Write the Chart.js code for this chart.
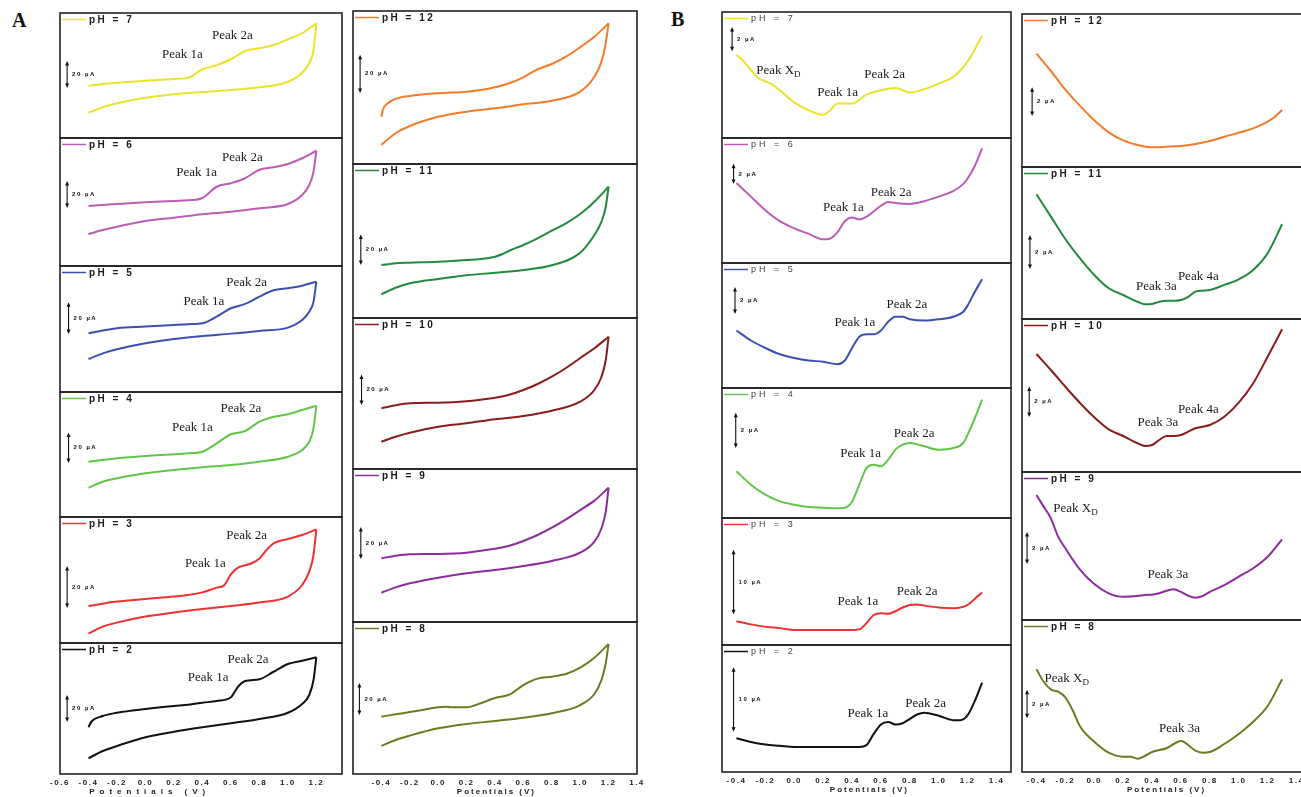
<!DOCTYPE html>
<html>
<head>
<meta charset="utf-8">
<script src="https://cdn.jsdelivr.net/npm/chart.js@4.4.1/dist/chart.umd.min.js"></script>
<style>
html,body{margin:0;padding:0;background:#fff;overflow:hidden;width:1301px;height:797px}
.tag{position:absolute;font:bold 20px "Liberation Serif",serif;color:#111}
</style>
</head>
<body>
<div class="tag" style="left:12px;top:9px">A</div>
<div class="tag" style="left:671px;top:8px">B</div>
<script>
/* ===== 數據（電流 µA，電位 V） ===== */
// A：循環伏安，正掃 / 反掃
const A_FWD_V = [-0.4,-0.2,0,0.2,0.3,0.4,0.5,0.6,0.7,0.8,0.9,1.0,1.1,1.2];
const A_REV_V = [-0.4,-0.3,-0.2,0,0.2,0.4,0.6,0.8,1.0,1.1,1.15,1.18,1.2];
const A3_FWD_V = [-0.4,-0.2,0,0.2,0.3,0.4,0.5,0.55,0.6,0.65,0.7,0.75,0.8,0.85,0.9,1.0,1.1,1.2];
const A2_FWD_V = [-0.4,-0.38,-0.3,-0.2,0,0.2,0.3,0.4,0.5,0.6,0.65,0.7,0.8,0.9,1.0,1.1,1.2];
const A12_FWD_V = [-0.4,-0.39,-0.35,-0.3,-0.2,0,0.2,0.3,0.4,0.5,0.6,0.7,0.8,0.9,1.0,1.1,1.2];
const A11_FWD_V = [-0.4,-0.3,-0.2,0,0.2,0.3,0.4,0.45,0.5,0.6,0.7,0.8,0.9,1.0,1.1,1.2];
const A10_FWD_V = [-0.4,-0.3,-0.2,0,0.2,0.3,0.4,0.5,0.6,0.7,0.8,0.9,1.0,1.1,1.2];
const A8_FWD_V = [-0.4,-0.3,-0.2,-0.1,0,0.05,0.1,0.2,0.3,0.4,0.5,0.6,0.7,0.8,0.9,1.0,1.1,1.2];

const A7_FWD = [41.8,44.2,45.8,47.2,48.2,55.0,58.2,63.0,69.6,71.8,74.4,79.0,83.8,91.8];
const A7_REV = [20.2,24.6,27.8,32.2,35.0,36.8,38.4,40.6,45.0,52.2,59.8,70.4,91.8];
const A6_FWD = [48,49.6,51,52,52.6,54.4,63.4,66.2,70.2,77,79,81.6,86.2,92.2];
const A6_REV = [25.4,28.8,31.4,36,38.6,41.4,43.4,46.2,49.6,56.8,64.8,75.4,92.2];
const A5_FWD = [39.3,42.7,43.8,44.9,45.4,46,50.5,56.1,59,63.9,68.1,69.5,71.2,73.9];
const A5_REV = [22.1,25.9,28.6,32.6,35.5,37.5,39.1,40.9,43.1,48.2,53.8,60.5,73.9];
const A4_FWD = [38.7,41.1,42.7,43.9,44.6,45.7,51.6,57.9,60.2,66.7,70.2,71.9,74.9,77.9];
const A4_REV = [20.5,24.7,27.1,30.6,32.9,34.8,36.4,38.7,42.2,46.9,52.7,62.1,77.9];
const A3_FWD = [18.5,20.7,22,23.2,24,25.3,27.7,28.7,34.3,37.7,38.8,40,42.3,46.5,49.8,52,54,56.8];
const A3_REV = [4.8,8.2,10.2,13.2,15.3,17,18.5,20.2,23.2,29,35.7,44,56.8];
const A2_FWD = [37.4,41.8,46.4,49,52,54.4,55.4,57,58.4,61.4,69.8,74.4,75.8,81.8,88,90.6,93.4];
const A2_REV = [12.6,18.4,22.4,29.4,33.8,37.4,40.6,44,49,56,63.2,75.2,93.4];
const A12_FWD = [26,29.7,33.7,35.8,37.4,38.9,39.8,40.7,42.2,44.4,47.7,52.1,55,59,64.2,70,77.4];
const A12_REV = [10.5,16.9,20.9,26,28.8,30.6,32.8,34.8,39.8,48,56.3,66.4,77.4];
const A11_FWD = [37.1,38.3,38.7,39.4,40.6,41.3,42.9,44.6,47.1,51.1,55.8,61.1,66.3,72.8,81.4,91.9];
const A11_REV = [16.6,21.2,24.3,27.3,29.9,31.7,33.6,36.9,45.7,58.1,67.4,77.9,91.9];
const A10_FWD = [42.5,44.6,46,46.4,47.4,48.5,49.9,52,55.3,59.5,64.6,70.7,77.7,84.5,92.6];
const A10_REV = [19.1,22.6,25.4,29.6,32,34.8,37.1,40.8,47.1,55.3,64.6,76.3,92.6];
const A9_FWD = [42.7,44.4,45.4,45.6,46.4,47.8,49.1,51.1,54.3,58.3,63.2,68.8,75,81.3,90];
const A9_REV = [19.6,23.2,25.9,29.7,32.6,34.8,37.5,40.9,46.4,53.8,62.8,73.9,90];
const A8_FWD = [38.4,40,41.5,43.1,44.7,45.1,44.7,44.7,47.4,50.9,53.1,59.6,63.9,65.2,67,71.2,77.9,87.1];
const A8_REV = [18.8,22.8,25.7,30.6,33.5,35.5,37.7,40.7,46.2,53.6,63,74.2,87.1];

// B：差分脈衝，單掃
const B7_V = [-0.4,-0.35,-0.3,-0.25,-0.2,-0.15,-0.1,0,0.1,0.2,0.25,0.3,0.35,0.4,0.5,0.6,0.7,0.8,0.9,1.0,1.1,1.2,1.3];
const B7_I = [7.5,6.9,6.1,5.4,5.1,4.8,4.3,3.2,2.5,2.1,2.5,3.1,3.1,3.1,3.9,4.3,4.5,4.1,4.4,4.9,5.5,6.9,9.2];
const B6_V = [-0.4,-0.3,-0.2,-0.1,0,0.1,0.2,0.25,0.3,0.35,0.4,0.45,0.5,0.6,0.65,0.7,0.8,0.9,1.0,1.1,1.17,1.2,1.25,1.3];
const B6_I = [8.8,7.3,5.8,4.6,3.8,3.2,2.6,2.7,3.4,4.6,5.0,4.8,5.1,6.3,6.7,6.6,6.5,6.8,7.3,7.9,8.7,9.3,10.7,12.6];
const B54_V = [-0.4,-0.3,-0.2,-0.1,0,0.1,0.2,0.3,0.35,0.4,0.45,0.5,0.55,0.6,0.65,0.7,0.75,0.8,0.9,1.0,1.1,1.17,1.2,1.25,1.3];
const B5_I = [4.6,3.8,3.2,2.7,2.4,2.2,2.1,1.9,2.2,3.2,4.1,4.3,4.3,4.6,5.3,5.7,5.7,5.5,5.4,5.5,5.7,6.1,6.6,7.7,8.7];
const B4_I = [2.8,2.0,1.4,1.0,0.8,0.66,0.62,0.58,0.62,0.98,2.0,3.0,3.2,3.1,3.5,4.1,4.4,4.5,4.3,4.1,4.2,4.5,5.0,6.0,7.1];
const B32_V = [-0.4,-0.3,-0.2,-0.1,0,0.1,0.2,0.3,0.4,0.45,0.5,0.55,0.6,0.65,0.7,0.75,0.8,0.85,0.9,1.0,1.1,1.15,1.2,1.25,1.3];
const B3_I = [3.8,3.3,2.9,2.7,2.4,2.4,2.4,2.4,2.4,2.5,3.5,4.8,5.1,5.0,5.4,6.0,6.4,6.5,6.3,6.0,5.9,6.0,6.4,7.4,8.4];
const B2_I = [5.4,4.8,4.4,4.2,4.0,4.0,4.0,4.0,4.0,4.0,4.3,6.1,7.6,8.0,7.6,7.8,8.5,9.2,9.5,9.0,8.3,8.3,9.1,11.4,14.3];
const B12_V = [-0.4,-0.3,-0.2,-0.1,0,0.1,0.2,0.3,0.4,0.5,0.6,0.7,0.8,0.9,1.0,1.1,1.2,1.25,1.3];
const B12_I = [8.5,7.2,5.8,4.6,3.5,2.6,2.0,1.65,1.48,1.52,1.58,1.73,1.95,2.27,2.57,2.9,3.4,3.77,4.28];
const B1110_V = [-0.4,-0.3,-0.2,-0.1,0,0.1,0.2,0.3,0.35,0.4,0.45,0.5,0.55,0.6,0.65,0.7,0.75,0.8,0.9,1.0,1.1,1.2,1.3];
const B11_I = [7.8,6.4,5.0,3.8,2.75,1.92,1.5,1.08,0.92,0.94,1.08,1.14,1.14,1.19,1.39,1.71,1.77,1.81,2.13,2.48,3.06,4.11,5.92];
const B10_I = [8.26,7.14,5.97,4.85,3.83,2.99,2.52,2.01,1.82,1.89,2.24,2.52,2.52,2.59,2.82,3.06,3.17,3.29,3.87,4.85,6.21,8.07,9.99];
const B9_V = [-0.4,-0.35,-0.3,-0.25,-0.2,-0.1,0,0.1,0.2,0.3,0.35,0.4,0.45,0.5,0.55,0.6,0.65,0.7,0.75,0.8,0.9,1.0,1.1,1.2,1.3];
const B9_I = [8.34,7.56,6.78,5.56,4.78,3.38,2.4,1.78,1.55,1.6,1.67,1.69,1.78,1.95,2.05,1.87,1.62,1.49,1.6,1.87,2.33,2.89,3.45,4.22,5.38];
const B8_V = [-0.4,-0.35,-0.3,-0.25,-0.2,-0.15,-0.1,0,0.1,0.2,0.25,0.3,0.35,0.4,0.5,0.6,0.7,0.75,0.8,0.9,1.0,1.1,1.2,1.3];
const B8_I = [7.7,6.77,6.2,6.02,5.6,4.65,3.45,2.27,1.45,1.15,1.15,1.0,1.2,1.5,1.78,2.33,1.6,1.45,1.5,2.1,2.85,3.77,4.95,6.95];

// 峰標示 [文字, V, µA]（_ 後為下標）
const A7_PEAKS = [['Peak 1a',0.26,66.4],['Peak 2a',0.61,81.6]];
const A6_PEAKS = [['Peak 1a',0.36,74.4],['Peak 2a',0.68,86.4]];
const A5_PEAKS = [['Peak 1a',0.41,60.3],['Peak 2a',0.71,73]];
const A4_PEAKS = [['Peak 1a',0.33,62.3],['Peak 2a',0.67,75.6]];
const A3_PEAKS = [['Peak 1a',0.42,39.5],['Peak 2a',0.71,53.5]];
const A2_PEAKS = [['Peak 1a',0.44,76.8],['Peak 2a',0.72,91.2]];
const B7_PEAKS = [['Peak X_D',-0.11,6.03],['Peak 1a',0.30,4.1],['Peak 2a',0.625,5.7]];
const B6_PEAKS = [['Peak 1a',0.34,6.05],['Peak 2a',0.67,7.8]];
const B5_PEAKS = [['Peak 1a',0.42,5.2],['Peak 2a',0.78,6.64]];
const B4_PEAKS = [['Peak 1a',0.46,3.84],['Peak 2a',0.83,5.04]];
const B3_PEAKS = [['Peak 1a',0.44,7.0],['Peak 2a',0.85,8.6]];
const B2_PEAKS = [['Peak 1a',0.51,9.3],['Peak 2a',0.91,11.0]];
const B11_PEAKS = [['Peak 3a',0.43,2.0],['Peak 4a',0.72,2.63]];
const B10_PEAKS = [['Peak 3a',0.44,3.43],['Peak 4a',0.72,4.34]];
const B9_PEAKS = [['Peak X_D',-0.13,7.4],['Peak 3a',0.51,3.0]];
const B8_PEAKS = [['Peak X_D',-0.19,6.98],['Peak 3a',0.59,3.23]];

// 刻度
const TICKS_AL = [-0.6,-0.4,-0.2,0,0.2,0.4,0.6,0.8,1.0,1.2];
const TICKS_R  = [-0.4,-0.2,0,0.2,0.4,0.6,0.8,1.0,1.2,1.4];

/* ===== 版面 ===== */
const AXIS_H = 24, PADX = 20, PADT = 2;
const COLUMNS = {
  AL:{left:60,  width:282, min:-0.6, max:1.38, ticks:TICKS_AL, lgFont:'bold 10px "Liberation Sans"', lgGap:'2.5px', lgInk:'#1a1a1a', titleV:0.03, titleGap:'5px'},
  AR:{left:353, width:284, min:-0.6, max:1.4,  ticks:TICKS_R,  lgFont:'bold 10px "Liberation Sans"', lgGap:'2.5px', lgInk:'#1a1a1a', titleV:0.41, titleGap:'2px'},
  BL:{left:722, width:289, min:-0.5, max:1.5,  ticks:TICKS_R,  lgFont:'9px "Liberation Sans"', lgGap:'3px', lgInk:'#444', titleV:0.52, titleGap:'2px'},
  BR:{left:1022,width:289, min:-0.5, max:1.5,  ticks:TICKS_R,  lgFont:'bold 10px "Liberation Sans"', lgGap:'2.5px', lgInk:'#1a1a1a', titleV:0.5, titleGap:'2px'}
};
const C = {p7:'#ebe22a', p6:'#bb5cb5', p5:'#3b50b0', p4:'#60c54a', p3:'#ef3131', p2:'#111111',
           p12:'#f47b2a', p11:'#218a3c', p10:'#8a1c1c', p9:'#8c2c9c', p8:'#6e7a22'};

// bar: [V, 底端 µA, 長度 µA]
const PANELS = [
  {col:'AL', top:13,  bottom:138, ph:'7', color:C.p7, yMax:100,  series:[[A_FWD_V,A7_FWD],[A_REV_V,A7_REV]], bar:[-0.55,40.8,20], peaks:A7_PEAKS},
  {col:'AL', top:138, bottom:266, ph:'6', color:C.p6, yMax:102.4,series:[[A_FWD_V,A6_FWD],[A_REV_V,A6_REV]], bar:[-0.55,47.2,20], peaks:A6_PEAKS},
  {col:'AL', top:266, bottom:392, ph:'5', color:C.p5, yMax:84.4, series:[[A_FWD_V,A5_FWD],[A_REV_V,A5_REV]], bar:[-0.54,39.5,20], peaks:A5_PEAKS},
  {col:'AL', top:392, bottom:517, ph:'4', color:C.p4, yMax:87.5, series:[[A_FWD_V,A4_FWD],[A_REV_V,A4_REV]], bar:[-0.54,38.5,20], peaks:A4_PEAKS},
  {col:'AL', top:517, bottom:643, ph:'3', color:C.p3, yMax:63,   series:[[A3_FWD_V,A3_FWD],[A_REV_V,A3_REV]], bar:[-0.55,18,20], peaks:A3_PEAKS},
  {col:'AL', top:643, bottom:774, ph:'2', color:C.p2, yMax:104.8,series:[[A2_FWD_V,A2_FWD],[A_REV_V,A2_REV]], bar:[-0.55,42.4,20], peaks:A2_PEAKS, axis:true},

  {col:'AR', top:11,  bottom:164, ph:'12', color:C.p12, yMax:84.15, series:[[A12_FWD_V,A12_FWD],[A_REV_V,A12_REV]], bar:[-0.55,39.6,20], peaks:[]},
  {col:'AR', top:164, bottom:318, ph:'11', color:C.p11, yMax:107.8, series:[[A11_FWD_V,A11_FWD],[A_REV_V,A11_REV]], bar:[-0.545,37.8,20], peaks:[]},
  {col:'AR', top:318, bottom:469, ph:'10', color:C.p10, yMax:105.7, series:[[A10_FWD_V,A10_FWD],[A_REV_V,A10_REV]], bar:[-0.54,45.5,20], peaks:[]},
  {col:'AR', top:469, bottom:622, ph:'9',  color:C.p9,  yMax:102.5, series:[[A10_FWD_V,A9_FWD],[A_REV_V,A9_REV]], bar:[-0.545,42.9,20], peaks:[]},
  {col:'AR', top:622, bottom:774, ph:'8',  color:C.p8,  yMax:101.8, series:[[A8_FWD_V,A8_FWD],[A_REV_V,A8_REV]], bar:[-0.555,40.2,20], peaks:[], axis:true},

  {col:'BL', top:12,  bottom:138, ph:'7', color:C.p7, yMax:11.34, series:[[B7_V,B7_I]],  bar:[-0.43,7.9,2],  peaks:B7_PEAKS},
  {col:'BL', top:138, bottom:263, ph:'6', color:C.p6, yMax:13.75, series:[[B6_V,B6_I]],  bar:[-0.42,8.8,2],  peaks:B6_PEAKS},
  {col:'BL', top:263, bottom:388, ph:'5', color:C.p5, yMax:10.0,  series:[[B54_V,B5_I]], bar:[-0.41,6.0,2],  peaks:B5_PEAKS},
  {col:'BL', top:388, bottom:518, ph:'4', color:C.p4, yMax:7.8,   series:[[B54_V,B4_I]], bar:[-0.405,4.26,2],peaks:B4_PEAKS},
  {col:'BL', top:518, bottom:645, ph:'3', color:C.p3, yMax:20.32, series:[[B32_V,B3_I]], bar:[-0.42,5.1,10], peaks:B3_PEAKS},
  {col:'BL', top:645, bottom:772, ph:'2', color:C.p2, yMax:20.32, series:[[B32_V,B2_I]], bar:[-0.42,6.6,10], peaks:B2_PEAKS, axis:true},

  {col:'BR', top:14,  bottom:167, ph:'12', color:C.p12, yMax:11.475, series:[[B12_V,B12_I]],   bar:[-0.43,3.9,2],   peaks:[]},
  {col:'BR', top:167, bottom:319, ph:'11', color:C.p11, yMax:9.5,    series:[[B1110_V,B11_I]], bar:[-0.445,3.19,2], peaks:B11_PEAKS},
  {col:'BR', top:319, bottom:472, ph:'10', color:C.p10, yMax:10.71,  series:[[B1110_V,B10_I]], bar:[-0.45,3.92,2],  peaks:B10_PEAKS},
  {col:'BR', top:472, bottom:620, ph:'9',  color:C.p9,  yMax:9.87,   series:[[B9_V,B9_I]],     bar:[-0.465,3.8,2],  peaks:B9_PEAKS},
  {col:'BR', top:620, bottom:772, ph:'8',  color:C.p8,  yMax:11.4,   series:[[B8_V,B8_I]],     bar:[-0.465,4.1,2],  peaks:B8_PEAKS, axis:true}
];

/* ===== 繪圖 ===== */
const pts = (V,I) => V.map((v,j)=>({x:v, y:I[j]}));

function arrowBar(ctx, x, yLo, yHi){
  ctx.beginPath(); ctx.moveTo(x,yLo-2); ctx.lineTo(x,yHi+2); ctx.stroke();
  ctx.beginPath(); ctx.moveTo(x,yHi-1); ctx.lineTo(x-2,yHi+3.5); ctx.lineTo(x+2,yHi+3.5); ctx.closePath(); ctx.fill();
  ctx.beginPath(); ctx.moveTo(x,yLo+1); ctx.lineTo(x-2,yLo-3.5); ctx.lineTo(x+2,yLo-3.5); ctx.closePath(); ctx.fill();
}

function deco(p, c){
  return {
    id:'deco',
    beforeDraw(chart){ chart.ctx.letterSpacing = '1.5px'; },
    afterDraw(chart){
      const {ctx, chartArea:a, scales:{x,y}} = chart;
      ctx.save();
      // 外框
      ctx.strokeStyle='#222'; ctx.lineWidth=1.6;
      ctx.strokeRect(a.left, a.top, a.right-a.left, a.bottom-a.top);
      // 圖例
      ctx.strokeStyle=p.color; ctx.lineWidth=1.5;
      ctx.beginPath(); ctx.moveTo(a.left+2, a.top+6.5); ctx.lineTo(a.left+26, a.top+6.5); ctx.stroke();
      ctx.fillStyle=c.lgInk; ctx.font=c.lgFont; ctx.letterSpacing=c.lgGap;
      ctx.textAlign='left'; ctx.textBaseline='middle';
      ctx.fillText('pH = '+p.ph, a.left+29, a.top+7);
      // 比例尺
      const [bv,b0,bl] = p.bar;
      const bx = x.getPixelForValue(bv), yLo = y.getPixelForValue(b0), yHi = y.getPixelForValue(b0+bl);
      ctx.strokeStyle='#111'; ctx.fillStyle='#111'; ctx.lineWidth=1.1;
      arrowBar(ctx, bx, yLo, yHi);
      ctx.font='bold 6px "Liberation Sans"'; ctx.letterSpacing='1.5px';
      ctx.fillText(bl+' µA', bx+5, (yLo+yHi)/2);
      // 峰標示
      ctx.letterSpacing='0px'; ctx.fillStyle='#1a1a1a';
      p.peaks.forEach(([t,v,i])=>{
        const [main, sub] = t.split('_');
        const px = x.getPixelForValue(v), py = y.getPixelForValue(i);
        ctx.font='13px "Liberation Serif"';
        const w1 = ctx.measureText(main).width;
        let w2 = 0;
        if(sub){ ctx.font='9px "Liberation Serif"'; w2 = ctx.measureText(sub).width; }
        const x0 = px-(w1+w2)/2;
        ctx.font='13px "Liberation Serif"'; ctx.fillText(main, x0, py);
        if(sub){ ctx.font='9px "Liberation Serif"'; ctx.fillText(sub, x0+w1, py+3.5); }
      });
      // 軸標題
      if(p.axis){
        ctx.font='bold 8px "Liberation Sans"'; ctx.letterSpacing=c.titleGap; ctx.fillStyle='#222';
        ctx.textAlign='center';
        ctx.fillText('Potentials (V)', x.getPixelForValue(c.titleV), a.bottom+18);
      }
      ctx.restore();
    }
  };
}

PANELS.forEach(p=>{
  const c = COLUMNS[p.col];
  const h = p.bottom-p.top+PADT+(p.axis?AXIS_H:2);
  const box = document.createElement('div');
  Object.assign(box.style,{position:'absolute', left:(c.left-PADX)+'px', top:(p.top-PADT)+'px',
    width:(c.width+2*PADX)+'px', height:h+'px'});
  const cv = document.createElement('canvas');
  box.appendChild(cv); document.body.appendChild(box);
  new Chart(cv,{
    type:'line',
    data:{datasets:p.series.map(([V,I])=>({data:pts(V,I), borderColor:p.color, borderWidth:2,
      pointRadius:0, cubicInterpolationMode:'monotone', fill:false}))},
    options:{
      responsive:true, maintainAspectRatio:false, animation:false,
      layout:{padding:{left:PADX, right:PADX, top:PADT, bottom:p.axis?0:2}},
      plugins:{legend:{display:false}, tooltip:{enabled:false}},
      scales:{
        x:{type:'linear', min:c.min, max:c.max, display:!!p.axis,
           grid:{display:false, drawTicks:false}, border:{display:false},
           afterBuildTicks:s=>{ s.ticks = c.ticks.map(v=>({value:v})); },
           afterFit:s=>{ if(p.axis) s.height = AXIS_H; },
           ticks:{autoSkip:false, maxRotation:0, padding:4, color:'#222',
                  font:{family:'"Liberation Sans"', size:8, weight:'bold'},
                  callback:v=>v.toFixed(1)}},
        y:{min:0, max:p.yMax, display:false}
      }
    },
    plugins:[deco(p,c)]
  });
});
</script>
</body>
</html>
